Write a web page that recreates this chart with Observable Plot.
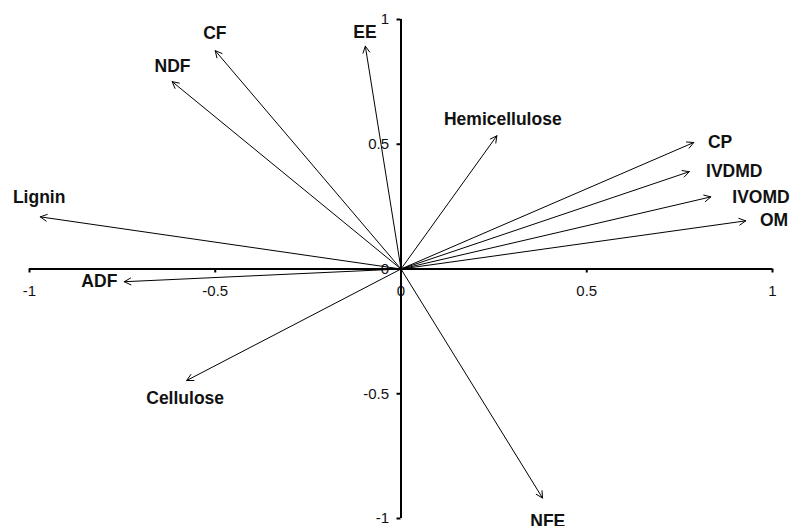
<!DOCTYPE html>
<html>
<head>
<meta charset="utf-8">
<script src="https://cdn.jsdelivr.net/npm/d3@7"></script>
<script src="https://cdn.jsdelivr.net/npm/@observablehq/plot@0.6"></script>
<style>
  html, body { margin: 0; padding: 0; background: #fff; }
  #chart svg { display: block; }
</style>
</head>
<body>
<div id="chart"></div>
<script>
// Variable loadings (arrow tips)
const names = ["EE", "CF", "NDF", "Lignin", "ADF", "Cellulose", "NFE", "Hemicellulose", "CP", "IVDMD", "IVOMD", "OM"];
const loadX = [-0.096, -0.50, -0.616, -0.971, -0.745, -0.577, 0.381, 0.258, 0.788, 0.776, 0.834, 0.928];
const loadY = [0.893, 0.875, 0.751, 0.209, -0.051, -0.447, -0.918, 0.534, 0.507, 0.390, 0.289, 0.193];
// Label anchor positions (data units)
const labelX = [-0.097, -0.501, -0.615, -0.974, -0.812, -0.581, 0.395, 0.274, 0.859, 0.897, 0.969, 1.004];
const labelY = [0.947, 0.944, 0.812, 0.286, -0.051, -0.519, -1.012, 0.601, 0.507, 0.390, 0.289, 0.193];
// Axis ticks
const xTicks = [-1, -0.5, 0, 0.5, 1];
const yTicks = [-1, -0.5, 0, 0.5, 1];
const xTickLabels = ["-1", "-0.5", "0", "0.5", "1"];
const yTickLabels = ["-1", "-0.5", "0", "0.5", "1"];

const vars = names.map((n, i) => ({name: n, x: loadX[i], y: loadY[i], lx: labelX[i], ly: labelY[i]}));
const xt = xTicks.map((v, i) => ({v, t: xTickLabels[i]}));
const yt = yTicks.map((v, i) => ({v, t: yTickLabels[i]}));

const chart = Plot.plot({
  width: 792,
  height: 526,
  marginLeft: 29,
  marginRight: 20,
  marginTop: 19,
  marginBottom: 8,
  x: {domain: [-1, 1], axis: null},
  y: {domain: [-1, 1], axis: null},
  style: {fontFamily: "'Liberation Sans', Arial, sans-serif", background: "#fff", overflow: "visible"},
  marks: [
    // tick labels
    Plot.text(xt, {x: "v", y: 0, text: "t", dy: 22, fontSize: 15, fill: "#111"}),
    Plot.text(yt, {x: 0, y: "v", text: "t", dx: -12, textAnchor: "end", fontSize: 15, fill: "#111"}),
    // axis lines
    Plot.ruleY([0], {x1: -1, x2: 1, stroke: "#000", strokeWidth: 2}),
    Plot.ruleX([0], {y1: -1, y2: 1, stroke: "#000", strokeWidth: 2}),
    // tick marks
    Plot.ruleX(xt, {x: "v", y1: 0, y2: 0, insetBottom: -4, stroke: "#000", strokeWidth: 2}),
    Plot.ruleY(yt, {y: "v", x1: 0, x2: 0, insetLeft: -4, stroke: "#000", strokeWidth: 2}),
    // loading arrows
    Plot.arrow(vars, {x1: 0, y1: 0, x2: "x", y2: "y", stroke: "#000", strokeWidth: 1, headLength: 11, headAngle: 55}),
    // variable labels
    Plot.text(vars, {x: "lx", y: "ly", text: "name", fontSize: 17.5, fontWeight: "bold", fill: "#111", textAnchor: "middle", lineAnchor: "middle"})
  ]
});
document.getElementById("chart").appendChild(chart);
</script>
</body>
</html>
